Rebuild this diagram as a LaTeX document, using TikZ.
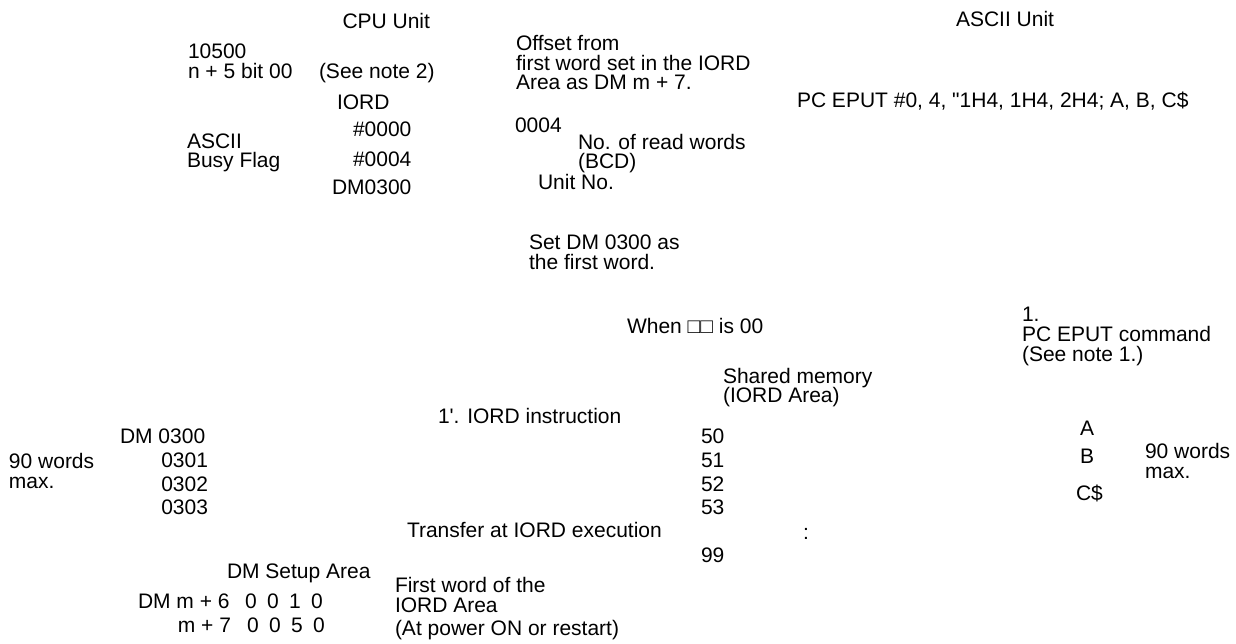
\documentclass[tikz,border=0pt]{standalone}
\usepackage{fontspec}
\newfontfamily\lsans{Liberation Sans}
\newcommand{\dsp}{\hspace{10.4pt}}
\begin{document}
\begin{tikzpicture}[x=1pt,y=-1pt,
  txt/.style={anchor=base west, inner sep=0pt, outer sep=0pt, font=\lsans\fontsize{21}{21}\selectfont, text=black},
  txtr/.style={txt, anchor=base east}]
\useasboundingbox (0,0) rectangle (1236,643);
% CPU Unit side
\node[txt] (cpu) at (342.5,28) {CPU Unit};
\node[txt] (ascu) at (956,26) {ASCII Unit};
\node[txt] (n10500) at (188,58.5) {10500};
\node[txt] (nbit) at (188,78) {n + 5 bit 00};
\node[txt] (note2) at (319,78) {(See note 2)};
\node[txt] (iord) at (337,109) {IORD};
\node[txt] (h0000) at (353,136) {\#0000};
\node[txt] (ascii) at (187,148) {ASCII};
\node[txt] (busy) at (187,167.5) {Busy Flag};
\node[txt] (h0004) at (353,166) {\#0004};
\node[txt] (dmA) at (332,194) {DM0300};
% Offset text
\node[txt] (off1) at (516,50.5) {Offset from};
\node[txt] (off2) at (516,70) {first word set in the IORD};
\node[txt] (off3) at (516,89) {Area as DM m + 7.};
\node[txt] (pceput) at (797,107) {PC EPUT \#0, 4, "1H4, 1H4, 2H4; A, B, C\$};
\node[txt] (z0004) at (515,132) {0004};
\node[txt] (noread) at (578,149) {No. of read words};
\node[txt] (bcd) at (578,168) {(BCD)};
\node[txt] (unitno) at (538,189) {Unit No.};
\node[txt] (setdm) at (529,249) {Set DM 0300 as};
\node[txt] (firstw) at (529,269) {the first word.};
\node[txt] (when) at (627,333) {When □□ is 00};
% ASCII unit side
\node[txt] (one) at (1022,321) {1.};
\node[txt] (pccmd) at (1022,341) {PC EPUT command};
\node[txt] (note1) at (1022,361) {(See note 1.)};
\node[txt] (shared) at (723,383) {Shared memory};
\node[txt] (iordarea) at (723,402) {(IORD Area)};
\node[txt] (iordinstr) at (438,423) {1'. IORD instruction};
\node[txt] (m50) at (701,443) {50};
\node[txt] (m51) at (701,467) {51};
\node[txt] (m52) at (701,491) {52};
\node[txt] (m53) at (701,514) {53};
\node[txt] (transfer) at (407,537) {Transfer at IORD execution};
\node[txt] (colon) at (803,539) {:};
\node[txt] (m99) at (701,562) {99};
\node[txt] (fw1) at (395,592) {First word of the};
\node[txt] (fw2) at (395,612) {IORD Area};
\node[txt] (fw3) at (395,635) {(At power ON or restart)};
\node[txt] (vA) at (1080,435) {A};
\node[txt] (vB) at (1080,463) {B};
\node[txt] (vC) at (1076,500) {C\$};
\node[txt] (w90r) at (1145,458) {90 words};
\node[txt] (maxr) at (1145,478) {max.};
% DM area
\node[txt] (dmB) at (120,443) {DM 0300};
\node[txtr] (d0301) at (208,467) {0301};
\node[txtr] (d0302) at (208,491) {0302};
\node[txtr] (d0303) at (208,514) {0303};
\node[txt] (w90l) at (9,468) {90 words};
\node[txt] (maxl) at (9,488) {max.};
\node[txt] (setup) at (227,578) {DM Setup Area};
\node[txt] (dm6) at (138,608) {DM m + 6};
\node[txtr] (dm7) at (231,632) {m + 7};
\node[txt] (v6) at (245,608) {0\dsp 0\dsp 1\dsp 0};
\node[txt] (v7) at (247,632) {0\dsp 0\dsp 5\dsp 0};
\end{tikzpicture}
\end{document}
